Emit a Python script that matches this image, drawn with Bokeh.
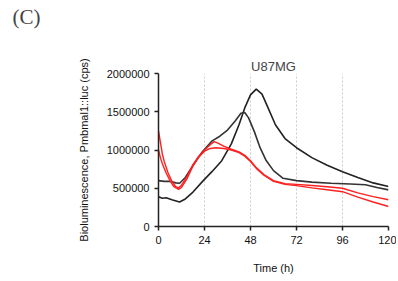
from bokeh.plotting import figure
from bokeh.models import Title, FixedTicker, Range1d
from bokeh.embed import file_html
from bokeh.resources import INLINE

# Black series A (later, higher peak)
t_black_a = [0, 2, 4, 7, 11, 14, 18, 23, 28, 33, 38, 42, 45, 48, 51, 54, 57, 61, 66, 72, 80, 88, 96, 104, 112, 120]
v_black_a = [390000, 370000, 375000, 350000, 320000, 360000, 450000, 590000, 720000, 860000, 1080000, 1330000,
             1550000, 1720000, 1795000, 1730000, 1560000, 1330000, 1150000, 1030000, 900000, 800000, 715000,
             640000, 570000, 523000]

# Black series B (earlier peak)
t_black_b = [0, 3, 6, 9, 11, 14, 18, 23, 28, 32, 36, 40, 43, 45, 47, 50, 53, 56, 60, 65, 72, 80, 90, 100, 108, 114, 120]
v_black_b = [600000, 590000, 590000, 570000, 565000, 640000, 800000, 980000, 1120000, 1180000, 1260000, 1380000,
             1480000, 1490000, 1420000, 1240000, 1030000, 870000, 730000, 630000, 600000, 580000, 565000, 555000,
             545000, 510000, 479000]

# Red series A (upper)
t_red_a = [0, 1, 2, 3, 5, 7, 9, 10.5, 12, 15, 18, 21, 24, 27, 29, 31, 34, 38, 42, 45, 48, 51, 55, 60, 66, 72, 80,
           88, 96, 104, 112, 120]
v_red_a = [1250000, 1100000, 950000, 850000, 700000, 590000, 520000, 505000, 540000, 660000, 810000, 920000, 1000000,
           1070000, 1110000, 1090000, 1050000, 1010000, 975000, 930000, 860000, 770000, 680000, 600000, 560000, 550000,
           535000, 520000, 500000, 440000, 390000, 349000]

# Red series B (lower)
t_red_b = [0, 1, 2, 4, 6, 8, 10.5, 12, 15, 18, 21, 24, 27, 30, 34, 38, 42, 45, 48, 51, 55, 60, 66, 72, 80, 88, 96,
           104, 112, 120]
v_red_b = [1000000, 900000, 820000, 700000, 600000, 520000, 485000, 510000, 630000, 790000, 910000, 985000, 1020000,
           1030000, 1020000, 1000000, 965000, 920000, 850000, 760000, 670000, 590000, 550000, 535000, 505000, 480000,
           455000, 385000, 320000, 261000]

x_ticks = [0, 24, 48, 72, 96, 120]
y_ticks = [0, 500000, 1000000, 1500000, 2000000]

FONT = "Liberation Sans"

p = figure(width=396, height=281, output_backend="svg", toolbar_location=None,
           x_range=Range1d(0, 120), y_range=Range1d(0, 2000000),
           min_border_left=158, min_border_right=8, min_border_top=73, min_border_bottom=55)

p.title.text = "(C)"
p.title.align = "left"
p.title.offset = -146
p.title.standoff = 0
p.title.text_font = "Liberation Serif"
p.title.text_font_size = "21px"
p.title.text_font_style = "normal"

p.add_layout(Title(text="U87MG", align="center", text_font=FONT, standoff=0,
                   text_font_size="13px", text_font_style="normal"), "above")
p.add_layout(Title(text=" ", align="center", text_font=FONT, standoff=0,
                   text_font_size="23px"), "above")

p.line(t_black_a, v_black_a, color="#222222", line_width=1.6)
p.line(t_black_b, v_black_b, color="#333333", line_width=1.6)
p.line(t_red_a, v_red_a, color="#ff2020", line_width=1.4)
p.line(t_red_b, v_red_b, color="#ff2020", line_width=1.4)

p.outline_line_color = None
p.ygrid.grid_line_color = None
p.xgrid.grid_line_color = "#cccccc"
p.xgrid.grid_line_dash = "2 2"
p.xgrid.ticker = FixedTicker(ticks=[24, 48, 72, 96, 120])

for ax in (p.xaxis, p.yaxis):
    ax.axis_line_color = "#222222"
    ax.axis_line_width = 1.5
    ax.major_tick_line_color = "#222222"
    ax.major_tick_line_width = 1.5
    ax.major_tick_in = 0
    ax.major_tick_out = 4
    ax.minor_tick_line_color = None
    ax.major_label_text_font = FONT
    ax.major_label_text_font_size = "11px"
    ax.major_label_text_color = "#111111"
    ax.axis_label_text_font = FONT
    ax.axis_label_text_font_size = "11px"
    ax.axis_label_text_font_style = "normal"
    ax.axis_label_text_color = "#111111"

p.xaxis.ticker = FixedTicker(ticks=x_ticks)
p.yaxis.ticker = FixedTicker(ticks=y_ticks)
p.yaxis.formatter.use_scientific = False
p.xaxis.axis_label = "Time (h)"
p.yaxis.axis_label = "Bioluminescence, Pmbmal1::luc (cps)"
p.xaxis.axis_label_standoff = 15
p.yaxis.axis_label_standoff = 14

open("out.html", "w").write(file_html(p, INLINE))
